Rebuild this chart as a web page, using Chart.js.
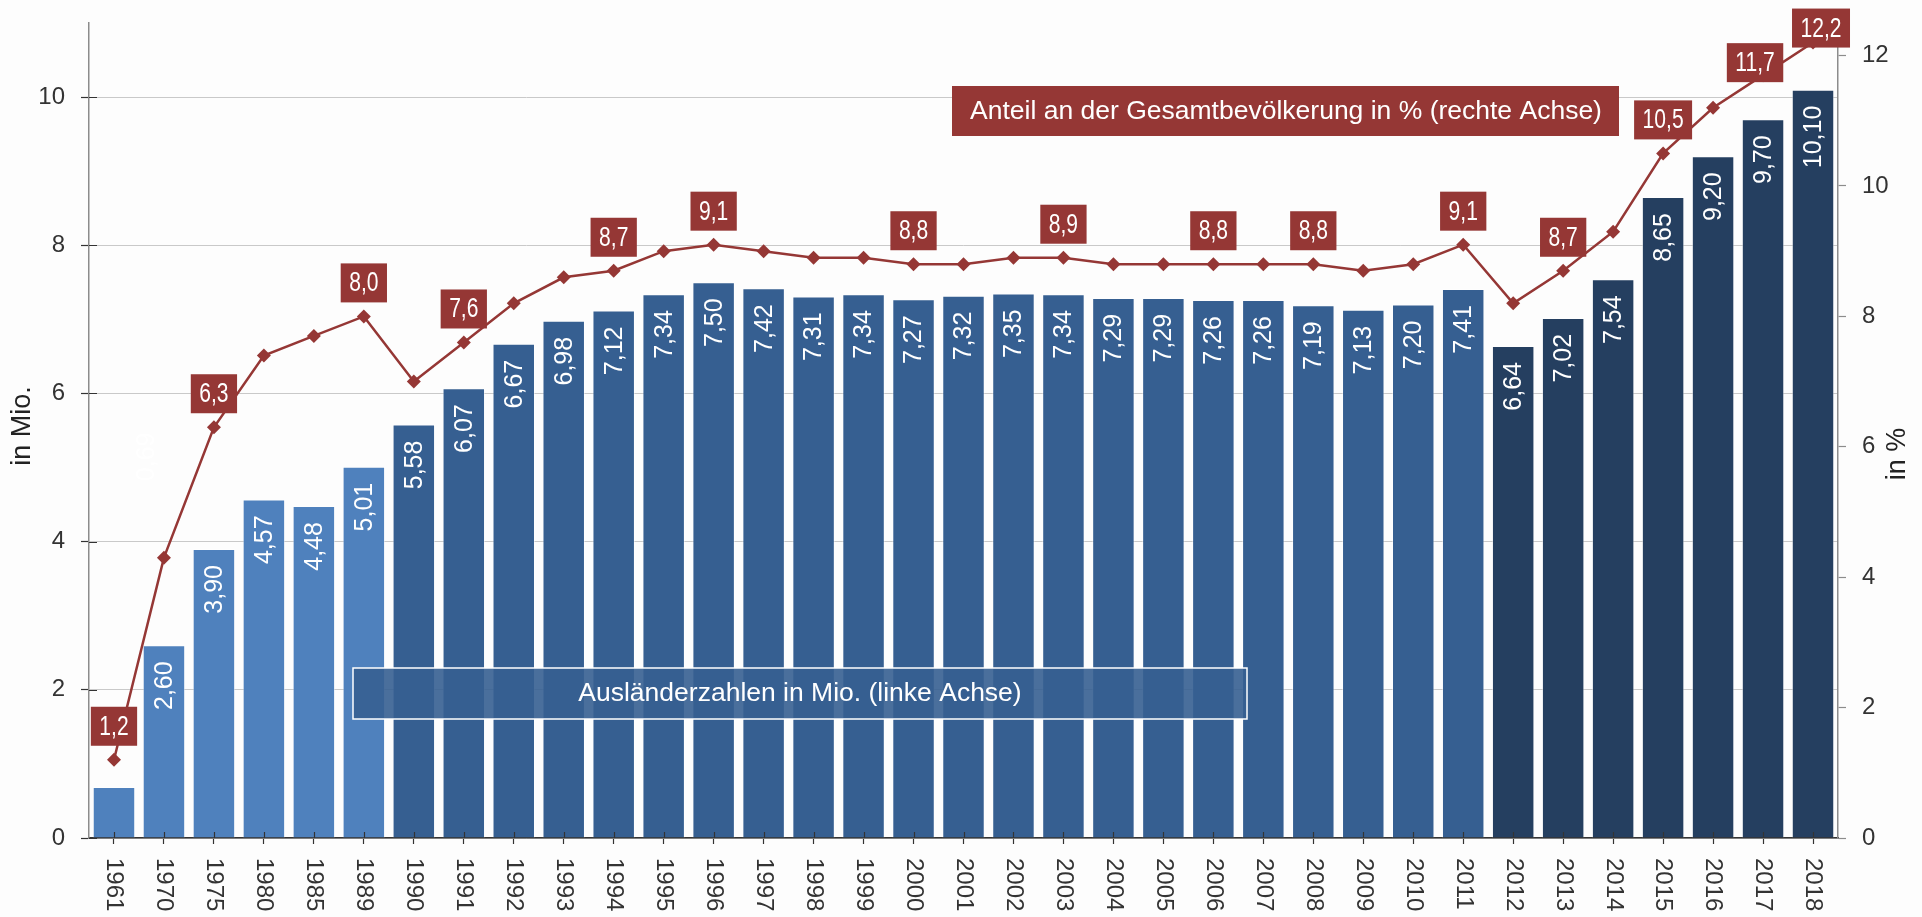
<!DOCTYPE html>
<html lang="de">
<head>
<meta charset="utf-8">
<title>Ausländer in Deutschland</title>
<script src="https://cdn.jsdelivr.net/npm/chart.js@4.4.1/dist/chart.umd.min.js"></script>
<style>
  html, body { margin: 0; padding: 0; background: #fdfdfd; }
  #wrap { width: 1922px; height: 917px; }
</style>
</head>
<body>
<div id="wrap"><canvas id="chart" width="1922" height="917"></canvas></div>
<script>
(function () {
  "use strict";

  // Data
  const years = ["1961", "1970", "1975", "1980", "1985", "1989", "1990", "1991", "1992", "1993",
    "1994", "1995", "1996", "1997", "1998", "1999", "2000", "2001", "2002", "2003", "2004",
    "2005", "2006", "2007", "2008", "2009", "2010", "2011", "2012", "2013", "2014", "2015",
    "2016", "2017", "2018"];
  const foreignersMio = [0.69, 2.60, 3.90, 4.57, 4.48, 5.01, 5.58, 6.07, 6.67, 6.98,
    7.12, 7.34, 7.50, 7.42, 7.31, 7.34, 7.27, 7.32, 7.35, 7.34, 7.29,
    7.29, 7.26, 7.26, 7.19, 7.13, 7.20, 7.41, 6.64, 7.02, 7.54, 8.65,
    9.20, 9.70, 10.10];
  const sharePct = [1.2, 4.3, 6.3, 7.4, 7.7, 8.0, 7.0, 7.6, 8.2, 8.6,
    8.7, 9.0, 9.1, 9.0, 8.9, 8.9, 8.8, 8.8, 8.9, 8.9, 8.8,
    8.8, 8.8, 8.8, 8.8, 8.7, 8.8, 9.1, 8.2, 8.7, 9.3, 10.5,
    11.2, 11.7, 12.2];
  const labeledYears = ["1961", "1975", "1989", "1991", "1994", "1996", "2000", "2003",
    "2006", "2008", "2011", "2013", "2015", "2017", "2018"];
  const leftTicks = [0, 2, 4, 6, 8, 10];
  const rightTicks = [0, 2, 4, 6, 8, 10, 12];
  const leftTitle = "in Mio.";
  const rightTitle = "in %";
  const lineCaption = "Anteil an der Gesamtbevölkerung in % (rechte Achse)";
  const barCaption = "Ausländerzahlen in Mio. (linke Achse)";

  // Styles
  const FONT = "'Liberation Sans', Arial, Helvetica, sans-serif";
  const RED = "#953735";
  const TEXT = "#333333";
  const fmt = (v, d) => v.toFixed(d).replace(".", ",");

  function barColor(year) {
    const y = +year;
    if (y < 1990) return "#4f81bd";
    if (y < 2012) return "#365f91";
    return "#253f60";
  }

  // nudges for crowded labels at the right edge
  const labelNudge = { "2017": [-8, 21], "2018": [8, 19] };

  function box(ctx, x, y, w, h, fill, stroke) {
    ctx.fillStyle = fill;
    ctx.fillRect(x, y, w, h);
    if (stroke) {
      ctx.strokeStyle = stroke;
      ctx.lineWidth = 1.5;
      ctx.strokeRect(x, y, w, h);
    }
  }

  const decor = {
    id: "decor",
    afterDatasetsDraw(chart) {
      const ctx = chart.ctx;
      const area = chart.chartArea;
      const xs = chart.scales.x;
      const yl = chart.scales.yLeft;

      ctx.save();

      // inner parts of the tick marks
      ctx.strokeStyle = "#333";
      ctx.lineWidth = 1.2;
      ctx.beginPath();
      yl.ticks.forEach(t => {
        const py = Math.round(yl.getPixelForValue(t.value)) + 0.5;
        ctx.moveTo(area.left, py);
        ctx.lineTo(area.left + 8, py);
      });
      years.forEach((y, i) => {
        const px = Math.round(xs.getPixelForValue(i)) + 0.5;
        ctx.moveTo(px, area.bottom);
        ctx.lineTo(px, area.bottom - 6);
      });
      ctx.stroke();

      // bar value labels
      const bars = chart.getDatasetMeta(0).data;
      ctx.font = "25px " + FONT;
      ctx.fillStyle = "#ffffff";
      ctx.textBaseline = "middle";
      bars.forEach((el, i) => {
        const txt = fmt(foreignersMio[i], 2);
        const w = ctx.measureText(txt).width;
        ctx.save();
        if (w + 24 > el.base - el.y) {
          ctx.translate(el.x + 33, el.y - 330);
          ctx.rotate(-Math.PI / 2);
          ctx.textAlign = "center";
        } else {
          ctx.translate(el.x + 1, el.y + 16);
          ctx.rotate(-Math.PI / 2);
          ctx.textAlign = "right";
        }
        ctx.fillText(txt, 0, 0);
        ctx.restore();
      });

      // caption boxes
      ctx.textAlign = "center";
      ctx.textBaseline = "middle";
      ctx.font = "26.5px " + FONT;
      box(ctx, 353, 668, 894, 51, "rgba(54,95,145,0.9)", "#ffffff");
      ctx.fillStyle = "#ffffff";
      ctx.fillText(barCaption, 800, 694);
      box(ctx, 952, 86, 667, 50, RED);
      ctx.fillStyle = "#ffffff";
      ctx.fillText(lineCaption, 1286, 112);

      // point labels
      const pts = chart.getDatasetMeta(1).data;
      ctx.font = "27px " + FONT;
      pts.forEach((el, i) => {
        const yr = years[i];
        if (labeledYears.indexOf(yr) < 0) return;
        const txt = fmt(sharePct[i], 1);
        const tw = ctx.measureText(txt).width * 0.78;
        const w = tw + 17, h = 39;
        const n = labelNudge[yr] || [0, 0];
        const cx = el.x + n[0];
        const bottom = el.y - 14 + n[1];
        box(ctx, cx - w / 2, bottom - h, w, h, RED);
        ctx.fillStyle = "#ffffff";
        ctx.save();
        ctx.translate(cx, bottom - h / 2 + 1);
        ctx.scale(0.78, 1);
        ctx.fillText(txt, 0, 0);
        ctx.restore();
      });

      // category labels, rotated clockwise
      ctx.font = "24px " + FONT;
      ctx.fillStyle = TEXT;
      ctx.textAlign = "left";
      years.forEach((y, i) => {
        ctx.save();
        ctx.translate(xs.getPixelForValue(i), area.bottom + 20);
        ctx.rotate(Math.PI / 2);
        ctx.fillText(y, 0, 0);
        ctx.restore();
      });

      // axis titles
      ctx.font = "27px " + FONT;
      ctx.fillStyle = "#222";
      ctx.textAlign = "center";
      [[leftTitle, 23, 426], [rightTitle, 1898, 454]].forEach(a => {
        ctx.save();
        ctx.translate(a[1], a[2]);
        ctx.rotate(-Math.PI / 2);
        ctx.fillText(a[0], 0, 0);
        ctx.restore();
      });

      ctx.restore();
    }
  };

  const tickFont = { family: FONT, size: 24 };
  const fitY = w => s => { s.width = w; s.paddingTop = 0; s.paddingBottom = 0; };

  new Chart(document.getElementById("chart").getContext("2d"), {
    data: {
      labels: years,
      datasets: [
        {
          type: "bar",
          label: barCaption,
          data: foreignersMio,
          yAxisID: "yLeft",
          backgroundColor: years.map(barColor),
          borderColor: "rgba(255,255,255,0.45)",
          borderWidth: 1,
          barPercentage: 0.85,
          categoryPercentage: 1,
          order: 2
        },
        {
          type: "line",
          label: lineCaption,
          data: sharePct,
          yAxisID: "yRight",
          borderColor: RED,
          borderWidth: 2.5,
          pointStyle: "rectRot",
          pointRadius: 7,
          pointBackgroundColor: RED,
          pointBorderColor: RED,
          pointBorderWidth: 0,
          tension: 0,
          clip: false,
          order: 1
        }
      ]
    },
    options: {
      responsive: false,
      animation: false,
      devicePixelRatio: 1,
      layout: { padding: { top: 23, left: 0, right: 0, bottom: 0 } },
      plugins: { legend: { display: false }, tooltip: { enabled: false } },
      scales: {
        x: {
          type: "category",
          offset: true,
          ticks: { display: false },
          grid: { offset: false, drawOnChartArea: false, tickLength: 6, tickColor: "#333", tickWidth: 1.2 },
          border: { color: "#333", width: 1.5 },
          afterFit: s => { s.height = 79; s.paddingLeft = 0; s.paddingRight = 0; }
        },
        yLeft: {
          position: "left",
          min: 0,
          max: 11,
          afterBuildTicks: s => { s.ticks = leftTicks.map(v => ({ value: v })); },
          ticks: { padding: 16, color: TEXT, font: tickFont },
          grid: { color: "#c9c9c9", lineWidth: 1, tickColor: "#333", tickLength: 8, tickWidth: 1.2 },
          border: { color: "#8c8c8c", width: 1.5 },
          afterFit: fitY(89)
        },
        yRight: {
          position: "right",
          min: 0,
          max: 12.5,
          afterBuildTicks: s => { s.ticks = rightTicks.map(v => ({ value: v })); },
          ticks: { padding: 16, color: TEXT, font: tickFont },
          grid: { drawOnChartArea: false, tickColor: "#8c8c8c", tickLength: 8, tickWidth: 1.2 },
          border: { color: "#8c8c8c", width: 1.5 },
          afterFit: fitY(84)
        }
      }
    },
    plugins: [decor]
  });
})();
</script>
</body>
</html>
